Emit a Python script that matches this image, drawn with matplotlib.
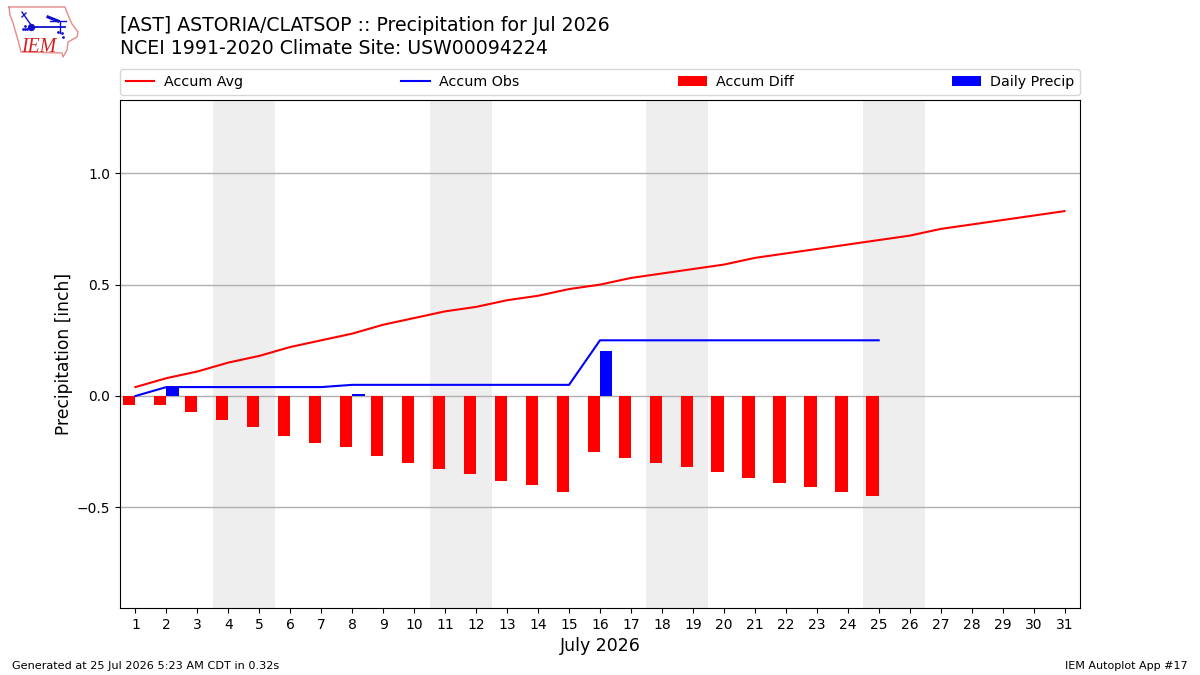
import numpy as np
import matplotlib
matplotlib.use('Agg')
import matplotlib.pyplot as plt

days = list(range(1, 32))
accum_avg = [0.04, 0.08, 0.11, 0.15, 0.18, 0.22, 0.25, 0.28, 0.32, 0.35, 0.38, 0.40, 0.43, 0.45, 0.48, 0.50,
             0.53, 0.55, 0.57, 0.59, 0.62, 0.64, 0.66, 0.68, 0.70, 0.72, 0.75, 0.77, 0.79, 0.81, 0.83]
obs_days = list(range(1, 26))
accum_obs = [0.00, 0.04, 0.04, 0.04, 0.04, 0.04, 0.04, 0.05, 0.05, 0.05, 0.05, 0.05, 0.05, 0.05, 0.05,
             0.25, 0.25, 0.25, 0.25, 0.25, 0.25, 0.25, 0.25, 0.25, 0.25]
accum_diff = [-0.04, -0.04, -0.07, -0.11, -0.14, -0.18, -0.21, -0.23, -0.27, -0.30, -0.33, -0.35, -0.38,
              -0.40, -0.43, -0.25, -0.28, -0.30, -0.32, -0.34, -0.37, -0.39, -0.41, -0.43, -0.45]
daily_precip = [0.00, 0.04, 0.00, 0.00, 0.00, 0.00, 0.00, 0.01, 0.00, 0.00, 0.00, 0.00, 0.00, 0.00, 0.00,
                0.20, 0.00, 0.00, 0.00, 0.00, 0.00, 0.00, 0.00, 0.00, 0.00]
weekends = [(3.5, 5.5), (10.5, 12.5), (17.5, 19.5), (24.5, 26.5)]

fig = plt.figure(figsize=(12, 6.75), dpi=100)
ax = fig.add_axes([120 / 1200, 1 - 608 / 675, 960 / 1200, 508 / 675])

for start, end in weekends:
    ax.axvspan(start, end, color='#eeeeee', lw=0, zorder=1)
ax.grid(axis='y', color='#b0b0b0', lw=1, zorder=1.5)

ax.plot(days, accum_avg, color='r', lw=1.5, label='Accum Avg', zorder=3)
ax.plot(obs_days, accum_obs, color='b', lw=1.5, label='Accum Obs', zorder=3)
ax.bar(obs_days, accum_diff, width=-0.4, align='edge', color='r', label='Accum Diff', zorder=2)
ax.bar(obs_days, daily_precip, width=0.4, align='edge', color='b', label='Daily Precip', zorder=2)

ax.set_xlim(0.5, 31.5)
ax.set_ylim(-0.952, 1.329)
ax.set_xticks(days)
ax.set_yticks([-0.5, 0, 0.5, 1.0])
ax.tick_params(labelsize=10)
ax.set_xlabel('July 2026', fontsize=12.5)
ax.set_ylabel('Precipitation [inch]', fontsize=12.3, labelpad=2.5)

ax.legend(loc='lower left', bbox_to_anchor=(0, 1.01, 1, 0.05), ncol=4, mode='expand', borderaxespad=0,
          fontsize=10.3, handletextpad=0.65)

fig.text(120 / 1200, 1 - 31 / 675, '[AST] ASTORIA/CLATSOP :: Precipitation for Jul 2026', fontsize=13.6, va='baseline')
fig.text(120 / 1200, 1 - 54 / 675, 'NCEI 1991-2020 Climate Site: USW00094224', fontsize=13.6, va='baseline')
fig.text(12 / 1200, 1 - 669 / 675, 'Generated at 25 Jul 2026 5:23 AM CDT in 0.32s', fontsize=8.1, va='baseline')
fig.text(1188 / 1200, 1 - 669 / 675, 'IEM Autoplot App #17', fontsize=8, va='baseline', ha='right')

# IEM logo, drawn in pixel coordinates
logo = fig.add_axes([0, 1 - 65 / 675, 90 / 1200, 65 / 675])
logo.set_xlim(0, 90)
logo.set_ylim(65, 0)
logo.axis('off')
state_x = [9, 65, 68, 72, 78, 77, 68, 67, 63, 62, 21, 18, 13, 10, 9]
state_y = [7, 7, 15, 24, 32, 37, 42, 50, 57, 53, 52, 40, 23, 15, 7]
logo.plot(state_x, state_y, color='#e88a8a', lw=1)
logo.plot([31, 65], [27, 27], color='#1010cc', lw=1.3)
logo.plot([50, 66], [21, 21], color='#1010cc', lw=1)
logo.plot([22, 31], [12, 25], color='#1010cc', lw=1)
logo.plot([22, 26], [17, 13], color='#1010cc', lw=1)
logo.plot([48, 58], [17, 21], color='#1010cc', lw=2.2)
logo.plot([60, 60], [21, 33], color='#1010cc', lw=1)
logo.scatter([31], [27], s=28, color='#1010cc', lw=0)
logo.scatter([23, 25, 27, 25, 58, 62, 63], [29, 29, 29, 26, 32, 33, 37], s=4, color='#1010cc', lw=0)
logo.text(21, 52, 'IEM', family='Liberation Serif', style='italic', fontsize=14.2, color='#d82020', va='baseline')

fig.savefig('out.png', dpi=100)
